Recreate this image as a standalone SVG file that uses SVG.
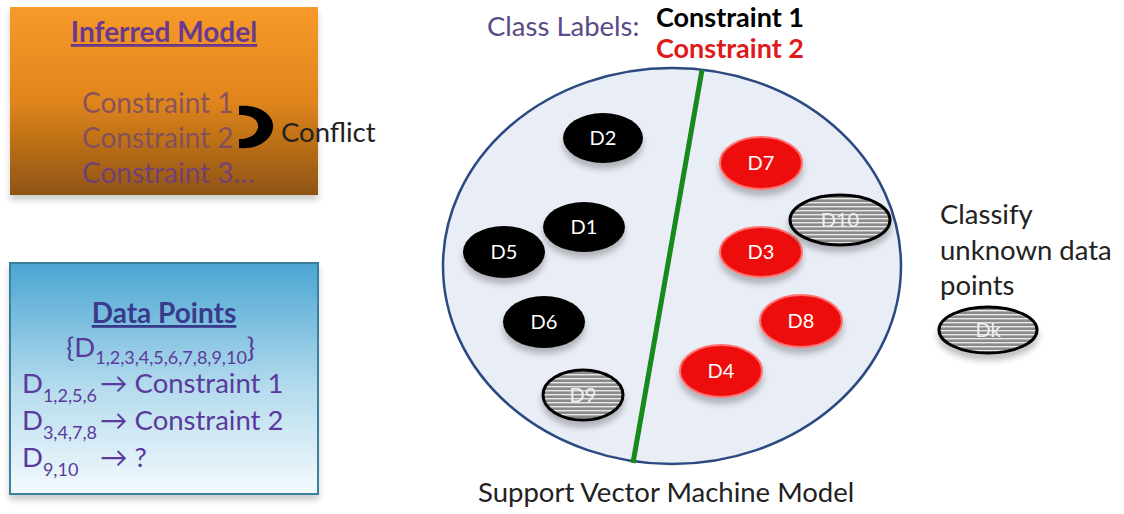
<svg xmlns="http://www.w3.org/2000/svg" width="1124" height="514" viewBox="0 0 1124 514">
<defs>
<linearGradient id="gOrange" x1="0" y1="0" x2="0" y2="1">
<stop offset="0" stop-color="#f79a2a"/>
<stop offset="0.5" stop-color="#e0851c"/>
<stop offset="1" stop-color="#8e5412"/>
</linearGradient>
<linearGradient id="gBlue" x1="0" y1="0" x2="0" y2="1">
<stop offset="0" stop-color="#4aa6d2"/>
<stop offset="0.55" stop-color="#b6dcee"/>
<stop offset="1" stop-color="#f4fafd"/>
</linearGradient>
<pattern id="hatch" width="8" height="4" patternUnits="userSpaceOnUse">
<rect width="8" height="4" fill="#8a8a8a"/>
<rect y="2" width="8" height="1.4" fill="#e8e8e8"/>
</pattern>
<filter id="sh" x="-30%" y="-30%" width="160%" height="180%">
<feGaussianBlur in="SourceAlpha" stdDeviation="3"/>
<feOffset dy="6"/>
<feComponentTransfer><feFuncA type="linear" slope="0.25"/></feComponentTransfer>
<feMerge><feMergeNode/><feMergeNode in="SourceGraphic"/></feMerge>
</filter>
<filter id="boxsh" x="-10%" y="-10%" width="120%" height="125%">
<feGaussianBlur in="SourceAlpha" stdDeviation="3"/>
<feOffset dy="5"/>
<feComponentTransfer><feFuncA type="linear" slope="0.2"/></feComponentTransfer>
<feMerge><feMergeNode/><feMergeNode in="SourceGraphic"/></feMerge>
</filter>
</defs>
<style>
text{font-family:"Lato","Open Sans","Liberation Sans",sans-serif;}
.t27{font-size:27.5px;}
.dark{fill:#222;}
.blk{fill:#000;stroke:none;}
.red{fill:#ee1111;stroke:#ff7070;stroke-width:2;}
.unk{fill:url(#hatch);stroke:#000;stroke-width:3;}
.lbl{font-size:20px;fill:#fff;text-anchor:middle;}
.ulbl{font-size:20px;fill:#f0f0f0;text-anchor:middle;}
.purple{fill:#5a3a9c;font-size:27.5px;}
.sub{font-size:18px;}
.ctr{font-size:28px;fill-opacity:0.85;}
</style>
<rect width="1124" height="514" fill="#fff"/>

<g id="inferred-model">
<rect x="10" y="7" width="308" height="188" fill="url(#gOrange)" filter="url(#boxsh)"/>
<text x="164" y="42" text-anchor="middle" font-size="28" font-weight="bold" fill="#6b3a8c" text-decoration="underline">Inferred Model</text>
<text x="82" y="113" class="ctr" fill="#7a4a6a">Constraint 1</text>
<text x="82" y="148" class="ctr" fill="#7a4a6a">Constraint 2</text>
<text x="82" y="183" class="ctr" fill="#6a3a8a">Constraint 3…</text>
</g>

<g id="conflict">
<path d="M239,106 C265,104 280,121 270,136 C262,147 249,149 239,148 L239,139 C249,139 256,135 258,128 C259,119 251,115 239,115 Z" fill="#000"/>
<text x="281" y="142" class="t27 dark">Conflict</text>
</g>

<g id="data-points">
<rect x="10" y="263" width="308" height="231" fill="url(#gBlue)" stroke="#3e7f9e" stroke-width="2" filter="url(#boxsh)"/>
<text x="164" y="323" text-anchor="middle" font-size="28" font-weight="bold" fill="#3a3a8c" text-decoration="underline">Data Points</text>
<text x="66" y="357" class="purple">{D<tspan class="sub" dy="7">1,2,3,4,5,6,7,8,9,10</tspan><tspan dy="-7">}</tspan></text>
<text x="22" y="393" class="purple">D<tspan class="sub" dy="9">1,2,5,6</tspan><tspan x="100" dy="-9">→ Constraint 1</tspan></text>
<text x="22" y="430" class="purple">D<tspan class="sub" dy="9">3,4,7,8</tspan><tspan x="100" dy="-9">→ Constraint 2</tspan></text>
<text x="22" y="467" class="purple">D<tspan class="sub" dy="9">9,10</tspan><tspan x="100" dy="-9">→ ?</tspan></text>
</g>

<g id="class-labels">
<text x="487" y="36" class="t27" fill="#5a4a86">Class Labels:</text>
<text x="656" y="27" font-size="27" font-weight="bold" fill="#000">Constraint 1</text>
<text x="656" y="58" font-size="27" font-weight="bold" fill="#e01a1a">Constraint 2</text>
</g>

<g id="svm-model">
<ellipse cx="672" cy="266" rx="229" ry="198" fill="#e9edf5" stroke="#2c4a82" stroke-width="2.5"/>
<text x="478" y="502" class="t27 dark">Support Vector Machine Model</text>
</g>

<g id="connectors">
<line x1="702" y1="70" x2="633" y2="463" stroke="#178a1c" stroke-width="5"/>
</g>

<g id="D2"><ellipse cx="603" cy="138" rx="40" ry="25" class="blk" filter="url(#sh)"/><text x="603" y="145" class="lbl">D2</text></g>
<g id="D1"><ellipse cx="584" cy="227" rx="41" ry="25" class="blk" filter="url(#sh)"/><text x="584" y="234" class="lbl">D1</text></g>
<g id="D5"><ellipse cx="504" cy="252" rx="41" ry="26" class="blk" filter="url(#sh)"/><text x="504" y="259" class="lbl">D5</text></g>
<g id="D6"><ellipse cx="544" cy="322" rx="41" ry="26" class="blk" filter="url(#sh)"/><text x="544" y="329" class="lbl">D6</text></g>
<g id="D9"><ellipse cx="583" cy="395" rx="40" ry="25" class="unk" filter="url(#sh)"/><text x="583" y="402" class="ulbl">D9</text></g>
<g id="D7"><ellipse cx="761" cy="163" rx="41" ry="26" class="red" filter="url(#sh)"/><text x="761" y="170" class="lbl">D7</text></g>
<g id="D3"><ellipse cx="761" cy="252" rx="41" ry="25" class="red" filter="url(#sh)"/><text x="761" y="259" class="lbl">D3</text></g>
<g id="D8"><ellipse cx="801" cy="321" rx="41" ry="26" class="red" filter="url(#sh)"/><text x="801" y="328" class="lbl">D8</text></g>
<g id="D4"><ellipse cx="721" cy="371" rx="41" ry="26" class="red" filter="url(#sh)"/><text x="721" y="378" class="lbl">D4</text></g>
<g id="D10"><ellipse cx="840" cy="220" rx="50" ry="25" class="unk" filter="url(#sh)"/><text x="840" y="227" class="ulbl">D10</text></g>

<g id="classify">
<text x="940" y="224" class="t27 dark">Classify</text>
<text x="940" y="260" class="t27 dark">unknown data</text>
<text x="940" y="295" class="t27 dark">points</text>
</g>
<g id="Dk"><ellipse cx="988" cy="330" rx="49" ry="23" class="unk" filter="url(#sh)"/><text x="988" y="337" class="ulbl">Dk</text></g>
</svg>
